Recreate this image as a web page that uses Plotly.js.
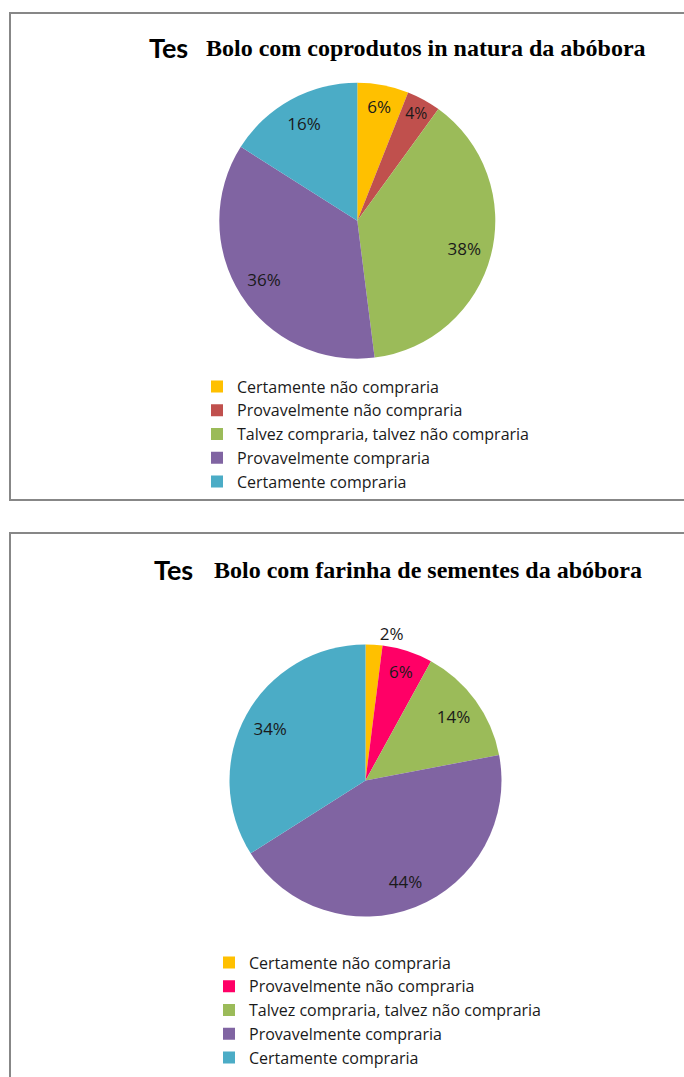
<!DOCTYPE html>
<html>
<head>
<meta charset="utf-8">
<script src="https://cdn.plot.ly/plotly-3.0.1.min.js"></script>
<style>
html,body{margin:0;padding:0;background:#fff;overflow:hidden;}
#chart1{position:absolute;left:0;top:0;width:684px;height:516px;}
#chart2{position:absolute;left:0;top:516px;width:684px;height:561px;}
</style>
</head>
<body>
<div id="chart1"></div>
<div id="chart2"></div>
<script>
// ---- data ----
const categories = [
  "Certamente não compraria",
  "Provavelmente não compraria",
  "Talvez compraria, talvez não compraria",
  "Provavelmente compraria",
  "Certamente compraria"
];
const valuesNatura = [6, 4, 38, 36, 16];
const valuesFarinha = [2, 6, 14, 44, 34];
const titleNatura = "Bolo com coprodutos in natura da abóbora";
const titleFarinha = "Bolo com farinha de sementes da abóbora";
const titleStub = "Tes";
const colorsNatura = ["#FFC000", "#C0504D", "#9BBB59", "#8064A2", "#4BACC6"];
const colorsFarinha = ["#FFC000", "#FF0066", "#9BBB59", "#8064A2", "#4BACC6"];

const W = 684;
const sansFont = "'Open Sans', 'Noto Sans', sans-serif";
const serifFont = "'Liberation Serif', 'Times New Roman', serif";

function makeChart(div, H, values, colors, title, cfg) {
  const px = x => x / W;
  const py = y => 1 - y / H;
  const txtFont = {family: sansFont, size: 17, color: "#1a1a1a"};
  const domain = {
    x: [px(cfg.cx - cfg.r), px(cfg.cx + cfg.r)],
    y: [py(cfg.cy + cfg.r), py(cfg.cy - cfg.r)]
  };
  const traces = [
    // coloured slices
    {
      type: "pie", labels: categories, values: values,
      marker: {colors: colors, line: {width: 0}},
      sort: false, direction: "clockwise", rotation: 0,
      textinfo: "none", domain: domain, hoverinfo: "label+percent"
    },
    // percentage labels placed on an outer ring (like the spreadsheet's best-fit labels)
    {
      type: "pie", labels: categories, values: values, hole: 0.6,
      marker: {colors: values.map(() => "rgba(0,0,0,0)"), line: {width: 0}},
      sort: false, direction: "clockwise", rotation: 0,
      textinfo: "percent", texttemplate: "%{percent:.0%}",
      textposition: cfg.textpos, insidetextorientation: "horizontal",
      textfont: txtFont, insidetextfont: txtFont, outsidetextfont: txtFont,
      domain: domain, showlegend: false, hoverinfo: "skip"
    }
  ];
  const layout = {
    width: W, height: H,
    margin: {l: 0, r: 0, t: 0, b: 0},
    paper_bgcolor: "#fff",
    showlegend: true,
    legend: {x: px(cfg.legX), y: py(cfg.legY), xanchor: "left", yanchor: "top",
             font: {family: sansFont, size: 16, color: "#1a1a1a"},
             bgcolor: "rgba(0,0,0,0)", itemclick: false},
    shapes: [
      {type: "rect", xref: "paper", yref: "paper", x0: px(10), x1: px(720),
       y0: py(cfg.boxBottom), y1: py(cfg.boxTop),
       line: {color: "#878787", width: 2}, fillcolor: "rgba(0,0,0,0)", layer: "below"}
    ],
    annotations: [
      {text: "<b>" + titleStub + "</b>", xref: "paper", yref: "paper", x: px(cfg.stubX), y: py(cfg.titleY),
       xanchor: "left", yanchor: "middle", showarrow: false,
       font: {family: "Lato, sans-serif", size: 27, color: "#000"}},
      {text: "<b>" + title + "</b>", xref: "paper", yref: "paper", x: px(cfg.titleX), y: py(cfg.titleY),
       xanchor: "center", yanchor: "middle", showarrow: false, bgcolor: "#fff", borderpad: cfg.pad,
       font: {family: serifFont, size: 24, color: "#000"}}
    ]
  };
  Plotly.newPlot(div, traces, layout, {staticPlot: true, displayModeBar: false});
}

makeChart("chart1", 516, valuesNatura, colorsNatura, titleNatura, {
  cx: 357.3, cy: 220.7, r: 138,
  textpos: "inside",
  legX: 197, legY: 369.5,
  boxTop: 13, boxBottom: 500,
  stubX: 147, titleX: 426, titleY: 48, pad: 17
});

// second chart: its div starts at y = 516 of the page
makeChart("chart2", 561, valuesFarinha, colorsFarinha, titleFarinha, {
  cx: 365.5, cy: 780.5 - 516, r: 136,
  textpos: ["outside", "inside", "inside", "inside", "inside"],
  legX: 209, legY: 945.5 - 516,
  boxTop: 533 - 516, boxBottom: 620,
  stubX: 152, titleX: 428, titleY: 570 - 516, pad: 20
});
</script>
</body>
</html>
